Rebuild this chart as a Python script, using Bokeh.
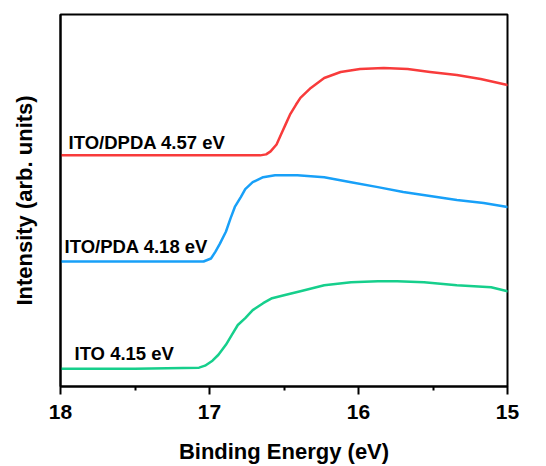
from bokeh.plotting import figure
from bokeh.models import Range1d, FixedTicker
from bokeh.core.properties import value
from bokeh.embed import file_html
from bokeh.resources import INLINE

FONT = "Liberation Sans"

# Binding energy (eV) and intensity (arb. units, stacked offsets)
dpda_energy = [18.0, 17.5, 17.0, 16.75, 16.66, 16.62, 16.59, 16.55, 16.52, 16.49, 16.46,
               16.42, 16.39, 16.32, 16.23, 16.12, 15.99, 15.83, 15.67, 15.52, 15.34, 15.18, 15.0]
dpda_intensity = [233, 233, 233, 233, 233, 234, 237, 244, 254, 264, 274,
                  284, 291, 301, 311, 317, 320, 321, 320, 317, 314, 310, 304]

pda_energy = [18.0, 17.5, 17.04, 16.99, 16.96, 16.93, 16.89, 16.86, 16.83, 16.79, 16.76,
              16.71, 16.64, 16.56, 16.41, 16.23, 16.05, 15.87, 15.70, 15.52, 15.34, 15.16, 15.0]
pda_intensity = [126, 126, 126, 129, 136, 144, 156, 169, 181, 191, 199,
                 206, 211, 213, 213, 211, 206, 201, 196, 192, 188, 185, 181]

ito_energy = [18.0, 17.5, 17.07, 17.03, 16.98, 16.94, 16.89, 16.85, 16.81, 16.76, 16.71,
              16.64, 16.58, 16.50, 16.39, 16.23, 16.05, 15.87, 15.74, 15.56, 15.34, 15.11, 15.0]
ito_intensity = [18, 18, 19, 21, 26, 32, 42, 52, 62, 69, 77,
                 84, 89, 92, 96, 102, 105, 106, 106, 105, 102, 100, 96]

series_labels = ["ITO/DPDA 4.57 eV", "ITO/PDA 4.18 eV", "ITO 4.15 eV"]
label_x = [17.946, 17.973, 17.906]
label_y = [246, 141, 33]
colors = ["#f83b3b", "#18a0f8", "#16cf8c"]

x_ticks = [18, 17, 16, 15]
x_minor_ticks = [17.5, 16.5, 15.5]

p = figure(width=546, height=466, output_backend="svg", toolbar_location=None,
           x_range=Range1d(18, 15), y_range=Range1d(0, 375),
           min_border_left=60, min_border_right=39, min_border_top=14, min_border_bottom=77)

p.background_fill_color = "white"
p.border_fill_color = "white"
p.grid.visible = False
p.outline_line_color = "black"
p.outline_line_width = 2

ya = p.yaxis[0]
ya.ticker = FixedTicker(ticks=[])
ya.axis_line_color = "black"
ya.axis_line_width = 2
ya.major_tick_line_color = None
ya.minor_tick_line_color = None
ya.major_label_text_font_size = "0px"
ya.axis_label = "Intensity (arb. units)"
ya.axis_label_text_font = FONT
ya.axis_label_text_font_style = "bold"
ya.axis_label_text_font_size = "22px"
ya.axis_label_text_color = "black"
ya.axis_label_standoff = 24

xa = p.xaxis[0]
xa.ticker = FixedTicker(ticks=x_ticks, minor_ticks=x_minor_ticks)
xa.axis_line_width = 2
xa.major_tick_line_width = 2
xa.minor_tick_line_width = 2
xa.major_tick_in = 0
xa.major_tick_out = 8
xa.minor_tick_in = 0
xa.minor_tick_out = 4
xa.major_label_text_font = FONT
xa.major_label_text_font_style = "bold"
xa.major_label_text_font_size = "21px"
xa.major_label_text_color = "black"
xa.major_label_standoff = 10
xa.axis_label = "Binding Energy (eV)"
xa.axis_label_text_font = FONT
xa.axis_label_text_font_style = "bold"
xa.axis_label_text_font_size = "22px"
xa.axis_label_text_color = "black"
xa.axis_label_standoff = 17

for ex, iy, c in [(dpda_energy, dpda_intensity, colors[0]),
                  (pda_energy, pda_intensity, colors[1]),
                  (ito_energy, ito_intensity, colors[2])]:
    p.line(ex, iy, line_color=c, line_width=2.5, line_join="round", line_cap="round")

p.text(x=label_x, y=label_y, text=series_labels, text_font=value(FONT),
       text_font_style="bold", text_font_size="18.5px", text_color="black",
       text_align="left", text_baseline="alphabetic")

open("out.html", "w").write(file_html(p, INLINE))
